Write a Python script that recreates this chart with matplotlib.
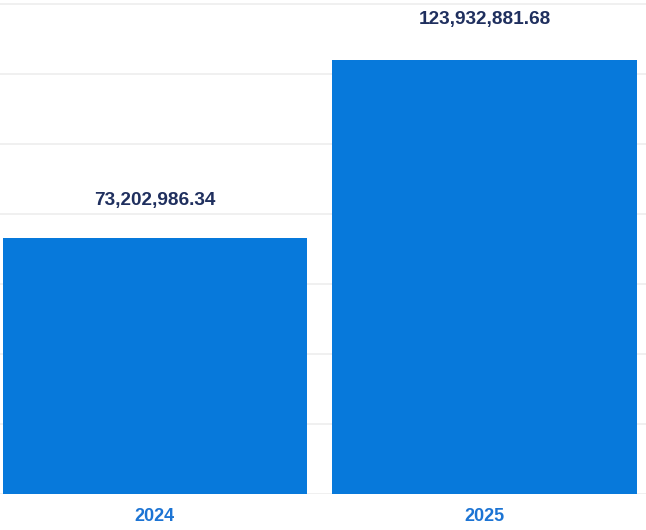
import matplotlib.pyplot as plt

years = ["2024", "2025"]
amounts = [73202986.34, 123932881.68]
value_labels = ["73,202,986.34", "123,932,881.68"]


def create_year_bar_chart():
    fig = plt.figure(figsize=(6.46, 5.3), dpi=100)
    ax = fig.add_axes([0, 36 / 530, 1, 494 / 530])

    x = range(len(years))
    ax.bar(x, amounts, width=0.923, color="#0779DB", zorder=2)

    ax.set_xlim(-0.470, 1.490)
    ax.set_ylim(0, 141e6)
    ax.set_yticks([i * 20e6 for i in range(8)])
    ax.yaxis.grid(True, color="#EEEEEE", linewidth=1.2, zorder=0)
    ax.set_yticklabels([])
    ax.tick_params(axis="y", length=0)

    ax.set_xticks(list(x))
    ax.set_xticklabels(years)
    ax.tick_params(axis="x", length=0, pad=10, labelsize=13, labelcolor="#1C74D4")
    for lbl in ax.get_xticklabels():
        lbl.set_fontfamily("Liberation Sans")
        lbl.set_fontweight("bold")

    for s in ax.spines.values():
        s.set_visible(False)

    # vertical label offsets (points)
    offsets = [27, 29]
    for i, (val, txt) in enumerate(zip(amounts, value_labels)):
        ax.annotate(txt, (i, val), xytext=(0, offsets[i]), textcoords="offset points",
                    ha="center", va="center", fontsize=13.7, fontweight="bold",
                    family="Liberation Sans", color="#1F2F5E", annotation_clip=False)

    fig.savefig("out.png", dpi=100)
    plt.close(fig)


if __name__ == "__main__":
    create_year_bar_chart()
